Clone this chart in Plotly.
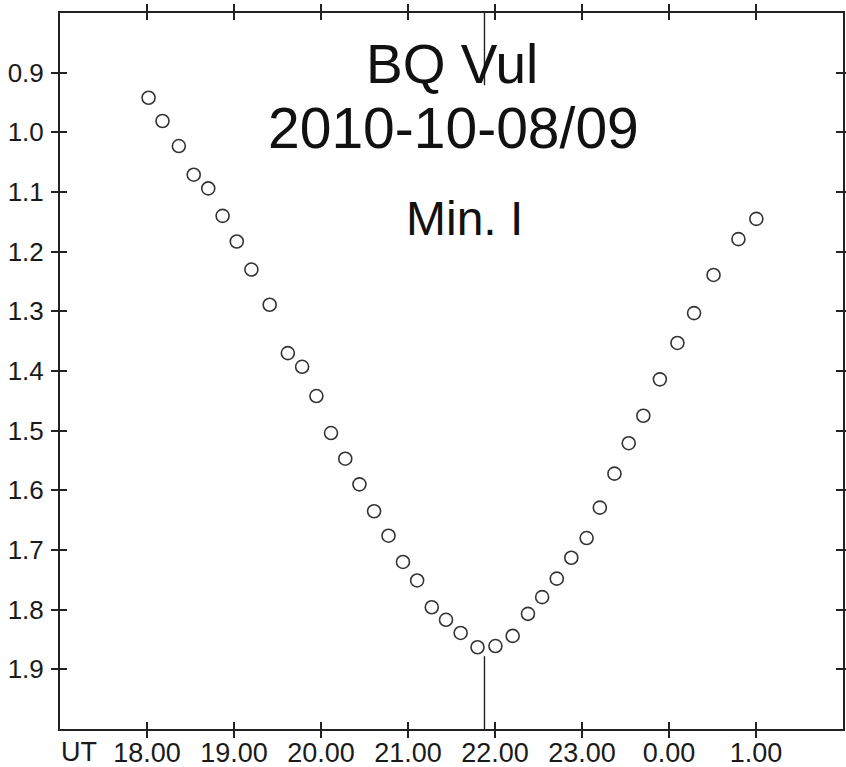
import plotly.graph_objects as go

# ---- data (UT hours; values after midnight expressed as 24+h) ----
ut_hours = [18.018, 18.178, 18.366, 18.537, 18.704, 18.869, 19.032, 19.200, 19.410, 19.619,
            19.783, 19.947, 20.115, 20.279, 20.442, 20.610, 20.776, 20.942, 21.105, 21.273,
            21.437, 21.605, 21.799, 22.005, 22.203, 22.379, 22.542, 22.710, 22.877, 23.053,
            23.205, 23.373, 23.537, 23.705, 23.895, 24.097, 24.288, 24.512, 24.798, 25.004]
magnitude = [0.942, 0.981, 1.023, 1.071, 1.094, 1.140, 1.183, 1.230, 1.289, 1.370,
             1.393, 1.442, 1.504, 1.547, 1.590, 1.635, 1.676, 1.720, 1.751, 1.796,
             1.817, 1.839, 1.863, 1.861, 1.844, 1.807, 1.779, 1.748, 1.713, 1.680,
             1.629, 1.572, 1.521, 1.475, 1.414, 1.353, 1.303, 1.239, 1.179, 1.145]

x_tick_vals = [18, 19, 20, 21, 22, 23, 24, 25]
x_tick_text = ["18.00", "19.00", "20.00", "21.00", "22.00", "23.00", "0.00", "1.00"]
y_tick_vals = [0.9, 1.0, 1.1, 1.2, 1.3, 1.4, 1.5, 1.6, 1.7, 1.8, 1.9]
y_tick_text = ["0.9", "1.0", "1.1", "1.2", "1.3", "1.4", "1.5", "1.6", "1.7", "1.8", "1.9"]

x_range = [17, 26]
y_range = [2.0, 0.8]

min_time = 21.879
min_marker_top = [0.8, 0.921]
min_marker_bottom = [1.878, 2.0]

title_lines = ["BQ Vul", "2010-10-08/09", "Min. I"]

FONT = "Liberation Sans, Arial, sans-serif"
AXC = "#222222"
TXT = "#111111"

fig = go.Figure()

fig.add_trace(go.Scatter(
    x=ut_hours, y=magnitude, mode="markers",
    marker=dict(symbol="circle-open", size=13, color="#333333", line=dict(width=1.6, color="#333333")),
    showlegend=False, hoverinfo="x+y",
))

for seg in (min_marker_top, min_marker_bottom):
    fig.add_trace(go.Scatter(
        x=[min_time, min_time], y=seg, mode="lines",
        line=dict(color="#222222", width=1.4),
        showlegend=False, hoverinfo="skip",
    ))

# invisible trace on overlay axes so they render
fig.add_trace(go.Scatter(x=[None], y=[None], xaxis="x2", yaxis="y2", showlegend=False))

common_x = dict(range=x_range, tickvals=x_tick_vals, showgrid=False, zeroline=False,
                showline=True, linecolor=AXC, linewidth=2, tickcolor=AXC, tickwidth=1.6,
                mirror="ticks", fixedrange=True)
common_y = dict(range=y_range, tickvals=y_tick_vals, showgrid=False, zeroline=False,
                showline=True, linecolor=AXC, linewidth=2, tickcolor=AXC, tickwidth=1.6,
                mirror="ticks", fixedrange=True)

fig.update_layout(
    width=846, height=767,
    margin=dict(l=60, r=1, t=13, b=38),
    paper_bgcolor="white", plot_bgcolor="white",
    font=dict(family=FONT, color=TXT),
    xaxis=dict(**common_x, ticktext=x_tick_text, ticks="outside", ticklen=7,
               tickfont=dict(size=27, family=FONT, color="#1a1a1a"), automargin=False,
               ticklabelstandoff=-8),
    yaxis=dict(**common_y, ticktext=y_tick_text, ticks="outside", ticklen=7,
               tickfont=dict(size=26, family=FONT, color="#1a1a1a"), automargin=False,
               ticklabelstandoff=2),
    xaxis2=dict(**common_x, overlaying="x", matches="x", ticks="inside", ticklen=7,
                showticklabels=False, anchor="y2", side="bottom"),
    yaxis2=dict(**common_y, overlaying="y", matches="y", ticks="inside", ticklen=7,
                showticklabels=False, anchor="x2", side="left"),
)

fig.add_annotation(text=title_lines[0], xref="paper", yref="paper", x=0.5006, y=0.929,
                   xanchor="center", yanchor="middle", showarrow=False,
                   font=dict(size=55, family=FONT, color=TXT))
fig.add_annotation(text=title_lines[1], xref="paper", yref="paper", x=0.502, y=0.8393,
                   xanchor="center", yanchor="middle", showarrow=False,
                   font=dict(size=57, family=FONT, color=TXT))
fig.add_annotation(text=title_lines[2], xref="paper", yref="paper", x=0.516, y=0.713,
                   xanchor="center", yanchor="middle", showarrow=False,
                   font=dict(size=48, family=FONT, color=TXT))
fig.add_annotation(text="UT", xref="paper", yref="paper", x=0.0248, y=-0.0326,
                   xanchor="center", yanchor="middle", showarrow=False,
                   font=dict(size=27, family=FONT, color="#1a1a1a"))

fig.write_html(
    "out.html",
    config={"displayModeBar": False},
    post_script="document.body.style.margin='0';document.body.style.padding='0';",
)
